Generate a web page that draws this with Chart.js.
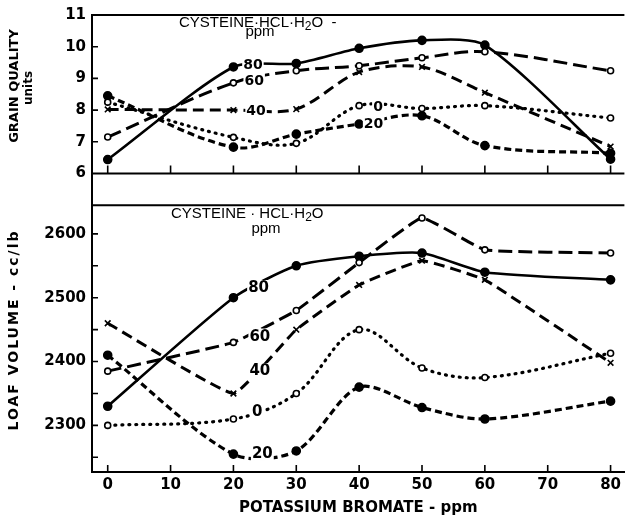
<!DOCTYPE html>
<html>
<head>
<meta charset="utf-8">
<script src="https://cdn.jsdelivr.net/npm/chart.js@4.4.1/dist/chart.umd.min.js"></script>
<style>
  html, body { margin: 0; padding: 0; background: #fff; }
  canvas { display: block; }
</style>
</head>
<body>
<canvas id="chart" width="630" height="520"></canvas>
<script>
// potassium bromate levels (ppm)
const bromate = [0, 20, 30, 40, 50, 60, 80];

// grain quality (units) per cysteine level
const grain0 = [8.25, 7.14, 6.95, 8.14, 8.05, 8.14, 7.75];
const grain20 = [8.45, 6.83, 7.24, 7.56, 7.82, 6.88, 6.64];
const grain40 = [8.02, 8.0, 8.03, 9.2, 9.36, 8.55, 6.85];
const grain60 = [7.15, 8.86, 9.24, 9.4, 9.65, 9.84, 9.24];
const grain80 = [6.44, 9.36, 9.47, 9.95, 10.2, 10.05, 6.45];

// loaf volume (cc/lb) per cysteine level
const loaf0 = [2300, 2310, 2350, 2450, 2390, 2375, 2413];
const loaf20 = [2410, 2255, 2260, 2360, 2328, 2310, 2338];
const loaf40 = [2460, 2350, 2450, 2520, 2558, 2528, 2398];
const loaf60 = [2385, 2430, 2480, 2555, 2625, 2575, 2570];
const loaf80 = [2330, 2500, 2550, 2565, 2570, 2540, 2528];

const xTicks = [0, 10, 20, 30, 40, 50, 60, 70, 80];
const grainTicks = [6, 7, 8, 9, 10, 11];
const loafTicks = [2300, 2400, 2500, 2600];

// curve labels written on the plot: [text, x, y]
const grainLabels = [['80', 23.1, 9.43], ['60', 23.3, 8.95], ['40', 23.6, 8.0], ['0', 43, 8.12], ['20', 42.3, 7.58]];
const loafLabels = [['80', 24, 2516], ['60', 24.2, 2440], ['40', 24.2, 2386], ['0', 23.8, 2322], ['20', 24.6, 2256]];

const FONT = 'DejaVu Sans';
const SERIF_FONT = 'Liberation Sans';

function pts(arr) {
    return bromate.map((x, i) => ({ x: x, y: arr[i] }));
}

const styles = {
    s0:  { dash: [1, 6], width: 3.2, cap: 'round', style: 'circle', fill: '#fff', r: 3 },
    s20: { dash: [7, 4], width: 3.2, cap: 'butt', style: 'circle', fill: '#000', r: 4 },
    s40: { dash: [11, 6], width: 3, cap: 'butt', style: 'crossRot', fill: '#000', r: 4 },
    s60: { dash: [14, 6], width: 3, cap: 'butt', style: 'circle', fill: '#fff', r: 3 },
    s80: { dash: [], width: 2.6, cap: 'butt', style: 'circle', fill: '#000', r: 4 }
};

function ds(label, arr, st, axis, tension) {
    return {
        label: label,
        data: pts(arr),
        yAxisID: axis,
        borderColor: '#000',
        borderWidth: st.width,
        borderDash: st.dash,
        borderCapStyle: st.cap,
        tension: tension,
        fill: false,
        pointStyle: st.style,
        pointRadius: st.r,
        pointBackgroundColor: st.fill,
        pointBorderColor: '#000',
        pointBorderWidth: 1.6
    };
}

function richText(ctx, parts, x, y, size) {
    let cx = x;
    for (const p of parts) {
        const fs = p.sub ? size * 0.8 : size;
        ctx.font = fs + 'px "' + SERIF_FONT + '"';
        ctx.fillText(p.t, cx, y + (p.sub ? 4 : 0));
        cx += ctx.measureText(p.t).width;
    }
}

function plotLabels(ctx, chart, list, axis, size) {
    const xs = chart.scales.x, ys = chart.scales[axis];
    ctx.font = 'bold ' + size + 'px "' + FONT + '"';
    ctx.textAlign = 'center';
    ctx.textBaseline = 'middle';
    for (const [t, x, y] of list) {
        const px = xs.getPixelForValue(x), py = ys.getPixelForValue(y);
        const w = ctx.measureText(t).width;
        ctx.fillStyle = '#fff';
        ctx.fillRect(px - w / 2 - 1, py - size / 2, w + 2, size);
        ctx.fillStyle = '#000';
        ctx.fillText(t, px, py + 1);
    }
}

const decor = {
    id: 'decor',
    afterDatasetsDraw(chart) {
        const ctx = chart.ctx;
        ctx.save();
        plotLabels(ctx, chart, grainLabels, 'yTop', 14);
        plotLabels(ctx, chart, loafLabels, 'yBot', 15);
        ctx.restore();
    },
    afterDraw(chart) {
        const ctx = chart.ctx;
        const area = chart.chartArea;
        const xs = chart.scales.x, yt = chart.scales.yTop, yb = chart.scales.yBot;
        ctx.save();
        ctx.strokeStyle = '#000';
        ctx.lineWidth = 2;
        // frame: top border, x line of the upper panel, divider
        const y6 = yt.getPixelForValue(6);
        ctx.beginPath();
        ctx.moveTo(area.left, area.top); ctx.lineTo(area.right, area.top);
        ctx.moveTo(area.left, y6); ctx.lineTo(area.right, y6);
        ctx.moveTo(area.left, yt.bottom); ctx.lineTo(area.right, yt.bottom);
        ctx.stroke();

        // inward tick marks
        ctx.lineWidth = 1.6;
        ctx.beginPath();
        yt.ticks.forEach(t => {
            if (t.value <= 6 || t.value >= 11) return;
            const p = yt.getPixelForValue(t.value);
            ctx.moveTo(area.left, p); ctx.lineTo(area.left + 6, p);
        });
        yb.ticks.forEach(t => {
            const p = yb.getPixelForValue(t.value);
            ctx.moveTo(area.left, p); ctx.lineTo(area.left + 6, p);
        });
        xs.ticks.forEach(t => {
            const p = xs.getPixelForValue(t.value);
            ctx.moveTo(p, area.bottom); ctx.lineTo(p, area.bottom - 7);
            ctx.moveTo(p, y6); ctx.lineTo(p, y6 - 8);
        });
        ctx.stroke();

        // compound name over each panel
        ctx.fillStyle = '#000';
        ctx.textAlign = 'left';
        ctx.textBaseline = 'middle';
        richText(ctx, [{ t: 'CYSTEINE\u00B7HCL\u00B7H' }, { t: '2', sub: true }, { t: 'O  -' }], 179, 23, 15);
        richText(ctx, [{ t: 'CYSTEINE \u00B7 HCL\u00B7H' }, { t: '2', sub: true }, { t: 'O' }], 171, 214, 15);
        ctx.textAlign = 'center';
        ctx.font = '15px "' + SERIF_FONT + '"';
        ctx.fillText('ppm', 260, 32);
        ctx.fillText('ppm', 266, 229);

        // rotated y titles
        ctx.save();
        ctx.translate(15, 86);
        ctx.rotate(-Math.PI / 2);
        ctx.font = 'bold 13px "' + FONT + '"';
        ctx.fillText('GRAIN QUALITY', 0, 0);
        ctx.restore();
        ctx.save();
        ctx.translate(29, 88);
        ctx.rotate(-Math.PI / 2);
        ctx.font = 'bold 12px "' + FONT + '"';
        ctx.fillText('units', 0, 0);
        ctx.restore();
        ctx.save();
        ctx.translate(14, 330);
        ctx.rotate(-Math.PI / 2);
        ctx.font = 'bold 14px "' + FONT + '"';
        ctx.letterSpacing = '2px';
        ctx.fillText('LOAF VOLUME - cc/lb', 0, 0);
        ctx.restore();
        ctx.restore();
    }
};

const tickFont = { family: FONT, size: 15, weight: 'bold' };

new Chart(document.getElementById('chart'), {
    type: 'line',
    data: {
        datasets: [
            ds('0 ppm', grain0, styles.s0, 'yTop', 0.35),
            ds('20 ppm', grain20, styles.s20, 'yTop', 0.35),
            ds('40 ppm', grain40, styles.s40, 'yTop', 0.3),
            ds('60 ppm', grain60, styles.s60, 'yTop', 0.35),
            ds('80 ppm', grain80, styles.s80, 'yTop', 0.25),
            ds('0 ppm', loaf0, styles.s0, 'yBot', 0.35),
            ds('20 ppm', loaf20, styles.s20, 'yBot', 0.3),
            ds('40 ppm', loaf40, styles.s40, 'yBot', 0.1),
            ds('60 ppm', loaf60, styles.s60, 'yBot', 0.1),
            ds('80 ppm', loaf80, styles.s80, 'yBot', 0.2)
        ]
    },
    options: {
        responsive: false,
        animation: false,
        devicePixelRatio: 1,
        layout: { padding: { top: 13, left: 0, right: 0, bottom: 0 } },
        plugins: {
            legend: { display: false },
            tooltip: { enabled: false }
        },
        scales: {
            x: {
                type: 'linear',
                min: -2.5,
                max: 82.2,
                afterFit: s => { s.height = 48; },
                afterBuildTicks: s => { s.ticks = xTicks.map(v => ({ value: v })); },
                grid: { display: false, drawTicks: false },
                border: { color: '#000', width: 2 },
                ticks: { font: tickFont, color: '#000', padding: 4, maxRotation: 0 },
                title: {
                    display: true,
                    text: 'POTASSIUM BROMATE - ppm',
                    color: '#000',
                    font: { family: FONT, size: 15, weight: 'bold', lineHeight: 1.2 },
                    padding: { top: 0, bottom: 3 }
                }
            },
            yBot: {
                type: 'linear',
                position: 'left',
                stack: 'panels',
                stackWeight: 268,
                min: 2227,
                max: 2645,
                afterFit: s => { s.width = 92; },
                afterBuildTicks: s => { s.ticks = [2250, 2300, 2350, 2400, 2450, 2500, 2550, 2600].map(v => ({ value: v })); },
                grid: { display: false, drawTicks: false },
                border: { color: '#000', width: 2 },
                ticks: {
                    font: tickFont, color: '#000', padding: 6, autoSkip: false,
                    callback: v => loafTicks.includes(v) ? String(v) : ''
                }
            },
            yTop: {
                type: 'linear',
                position: 'left',
                stack: 'panels',
                stackWeight: 191,
                min: 5,
                max: 11,
                afterFit: s => { s.width = 92; },
                afterBuildTicks: s => { s.ticks = grainTicks.map(v => ({ value: v })); },
                grid: { display: false, drawTicks: false },
                border: { color: '#000', width: 2 },
                ticks: { font: tickFont, color: '#000', padding: 6, autoSkip: false }
            }
        }
    },
    plugins: [decor]
});
</script>
</body>
</html>
